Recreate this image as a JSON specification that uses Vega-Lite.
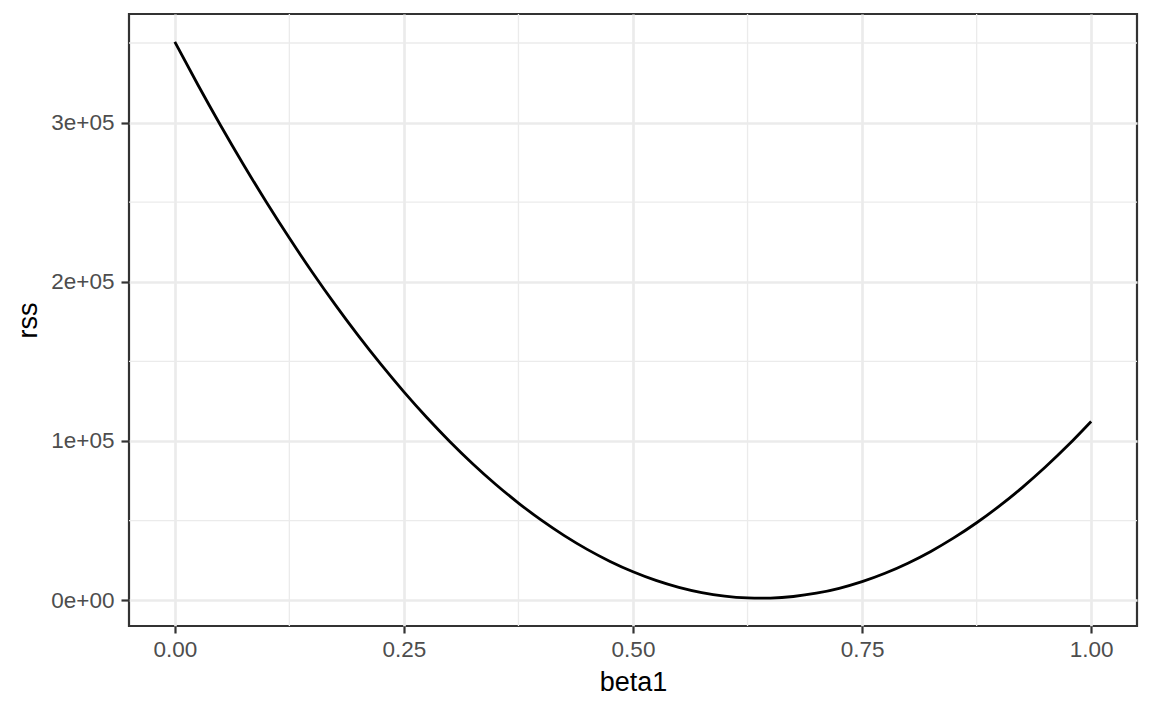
{
  "$schema": "https://vega.github.io/schema/vega-lite/v6.json",
  "width": 1008,
  "height": 612,
  "autosize": {"type": "none"},
  "padding": {"left": 129, "top": 14, "right": 15, "bottom": 85},
  "background": "white",
  "config": {
    "view": {"stroke": "#333333", "strokeWidth": 2.2},
    "font": "Liberation Sans",
    "axis": {
      "domain": false,
      "grid": true,
      "gridColor": "#EBEBEB",
      "gridWidth": 2.67,
      "tickColor": "#333333",
      "tickWidth": 2.2,
      "tickSize": 7,
      "labelFont": "Liberation Sans",
      "labelFontSize": 22.5,
      "labelColor": "#4D4D4D",
      "labelPadding": 5,
      "titleFont": "Liberation Sans",
      "titleFontSize": 27,
      "titleFontWeight": "normal",
      "titleColor": "#000000"
    }
  },
  "datasets": {
    "curve": [
      {"beta1": 0.0, "rss": 350700},
      {"beta1": 0.025, "rss": 323916},
      {"beta1": 0.05, "rss": 298193},
      {"beta1": 0.075, "rss": 273541},
      {"beta1": 0.1, "rss": 249958},
      {"beta1": 0.125, "rss": 227443},
      {"beta1": 0.15, "rss": 205994},
      {"beta1": 0.175, "rss": 185615},
      {"beta1": 0.2, "rss": 166303},
      {"beta1": 0.225, "rss": 148059},
      {"beta1": 0.25, "rss": 130885},
      {"beta1": 0.275, "rss": 114778},
      {"beta1": 0.3, "rss": 99739},
      {"beta1": 0.325, "rss": 85768},
      {"beta1": 0.35, "rss": 72865},
      {"beta1": 0.375, "rss": 61031},
      {"beta1": 0.4, "rss": 50264},
      {"beta1": 0.425, "rss": 40565},
      {"beta1": 0.45, "rss": 31935},
      {"beta1": 0.475, "rss": 24373},
      {"beta1": 0.5, "rss": 17879},
      {"beta1": 0.525, "rss": 12453},
      {"beta1": 0.55, "rss": 8095},
      {"beta1": 0.575, "rss": 4805},
      {"beta1": 0.6, "rss": 2583},
      {"beta1": 0.625, "rss": 1429},
      {"beta1": 0.64, "rss": 1250},
      {"beta1": 0.65, "rss": 1344},
      {"beta1": 0.675, "rss": 2327},
      {"beta1": 0.7, "rss": 4378},
      {"beta1": 0.725, "rss": 7496},
      {"beta1": 0.75, "rss": 11683},
      {"beta1": 0.775, "rss": 16939},
      {"beta1": 0.8, "rss": 23262},
      {"beta1": 0.825, "rss": 30653},
      {"beta1": 0.85, "rss": 39113},
      {"beta1": 0.875, "rss": 48640},
      {"beta1": 0.9, "rss": 59236},
      {"beta1": 0.925, "rss": 70900},
      {"beta1": 0.95, "rss": 83632},
      {"beta1": 0.975, "rss": 97432},
      {"beta1": 1.0, "rss": 112300}
    ],
    "minorx": [{"v": 0.125}, {"v": 0.375}, {"v": 0.625}, {"v": 0.875}],
    "minory": [{"v": 50000}, {"v": 150000}, {"v": 250000}, {"v": 350000}]
  },
  "layer": [
    {
      "data": {"name": "minorx"},
      "mark": {"type": "rule", "color": "#EBEBEB", "strokeWidth": 1.33},
      "encoding": {
        "x": {"field": "v", "type": "quantitative", "scale": {"domain": [-0.05, 1.05], "nice": false, "zero": false}}
      }
    },
    {
      "data": {"name": "minory"},
      "mark": {"type": "rule", "color": "#EBEBEB", "strokeWidth": 1.33},
      "encoding": {
        "y": {"field": "v", "type": "quantitative", "scale": {"domain": [-16200, 368200], "nice": false, "zero": false}}
      }
    },
    {
      "data": {"name": "curve"},
      "mark": {"type": "line", "color": "#000000", "strokeWidth": 2.8, "interpolate": "monotone"},
      "encoding": {
        "x": {
          "field": "beta1", "type": "quantitative",
          "scale": {"domain": [-0.05, 1.05], "nice": false, "zero": false},
          "axis": {"title": "beta1", "values": [0, 0.25, 0.5, 0.75, 1], "format": ".2f", "titlePadding": 9}
        },
        "y": {
          "field": "rss", "type": "quantitative",
          "scale": {"domain": [-16200, 368200], "nice": false, "zero": false},
          "axis": {
            "title": "rss",
            "values": [0, 100000, 200000, 300000],
            "labelExpr": "datum.value == 0 ? '0e+00' : format(datum.value / 100000, 'd') + 'e+05'",
            "tickSize": 8,
            "labelPadding": 7,
            "titlePadding": 8
          }
        }
      }
    }
  ]
}
